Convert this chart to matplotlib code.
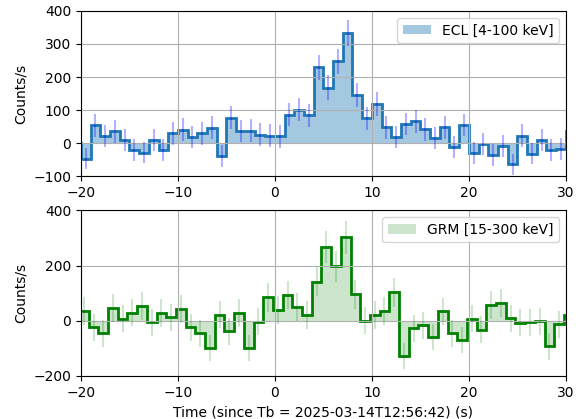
import matplotlib
matplotlib.use("Agg")
import matplotlib.pyplot as plt
import numpy as np

# ECL light curve, 1 s bins starting at -20 s (one extra bin at each side, clipped)
ecl_edges = np.arange(-21, 32, 1.0)
ecl_rate = [0,
            -46, 54, 22, 36, 10, -20, -28, 11, -19, 30,
            41, 20, 30, 47, -38, 77, 37, 38, 26, 23,
            21, 86, 102, 85, 230, 168, 248, 334, 146, 76,
            119, 48, 20, 58, 67, 42, 16, 48, -12, 56,
            -30, -1, -35, -8, -63, 23, -31, 10, -19, -16,
            36]
ecl_err = [33,
           33, 34, 33, 34, 33, 33, 33, 33, 33, 34,
           34, 33, 34, 34, 33, 35, 34, 34, 34, 34,
           34, 35, 36, 35, 38, 37, 38, 40, 37, 35,
           36, 34, 33, 34, 35, 34, 33, 34, 33, 34,
           33, 33, 33, 33, 32, 34, 33, 33, 33, 33,
           34]

# GRM light curve, 1 s bins offset by 0.8 s
grm_edges = np.arange(-20.2, 31.0, 1.0)
grm_rate = [35, -23, -45, 45, 7, 29, 53, -5, 28, 12,
            43, -24, -46, -99, 22, -39, 28, -100, -4, 85,
            38, 93, 50, 21, 142, 267, 197, 303, 95, -1,
            21, 36, 103, -129, -28, -16, -59, 34, -45, -71,
            7, -33, 57, 63, 8, -7, -5, -2, -93, -13,
            19]
grm_err = [50, 49, 49, 50, 49, 50, 50, 49, 50, 49,
           50, 49, 49, 48, 50, 49, 50, 48, 49, 52,
           50, 52, 51, 50, 54, 58, 56, 60, 52, 49,
           50, 51, 52, 47, 49, 49, 48, 50, 49, 48,
           49, 49, 51, 51, 49, 49, 49, 49, 48, 49,
           50]

fig, (ax1, ax2) = plt.subplots(2, 1, figsize=(5.78, 4.19), dpi=100)
fig.subplots_adjust(left=0.140, right=0.979, top=0.974, bottom=0.103, hspace=0.205)

c1 = 0.5 * (ecl_edges[:-1] + ecl_edges[1:])
ax1.stairs(ecl_rate, ecl_edges, baseline=0, fill=True, color='tab:blue', alpha=0.4,
           lw=0, label='ECL [4-100 keV]')
ax1.stairs(ecl_rate, ecl_edges, baseline=None, color='tab:blue', lw=2)
ax1.errorbar(c1, ecl_rate, yerr=ecl_err, fmt='none', ecolor='blue', alpha=0.3, elinewidth=1.5)
ax1.set_xlim(-20, 30)
ax1.set_ylim(-100, 400)
ax1.set_yticks([-100, 0, 100, 200, 300, 400])
ax1.set_ylabel('Counts/s')
ax1.grid(True)
ax1.legend(loc='upper right')

c2 = 0.5 * (grm_edges[:-1] + grm_edges[1:])
ax2.stairs(grm_rate, grm_edges, baseline=0, fill=True, color='green', alpha=0.2,
           lw=0, label='GRM [15-300 keV]')
ax2.stairs(grm_rate, grm_edges, baseline=None, color='green', lw=2)
ax2.errorbar(c2, grm_rate, yerr=grm_err, fmt='none', ecolor='green', alpha=0.2, elinewidth=1.5)
ax2.set_xlim(-20, 30)
ax2.set_ylim(-200, 400)
ax2.set_yticks([-200, 0, 200, 400])
ax2.set_ylabel('Counts/s')
ax2.set_xlabel('Time (since Tb = 2025-03-14T12:56:42) (s)')
ax2.grid(True)
ax2.legend(loc='upper right')

fig.savefig('out.png', dpi=100)
